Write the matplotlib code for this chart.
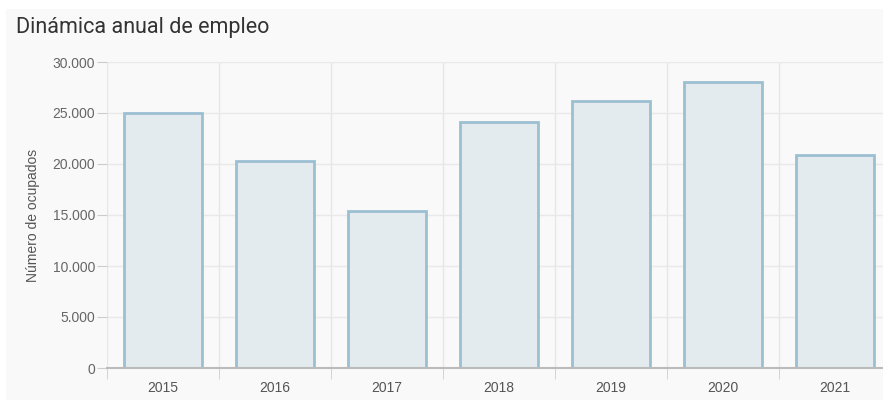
import matplotlib.pyplot as plt
import matplotlib.patches as mpatches
from matplotlib.ticker import FuncFormatter

plt.rcParams["font.family"] = ["Liberation Sans", "DejaVu Sans"]

years = ["2015", "2016", "2017", "2018", "2019", "2020", "2021"]
ocupados = [25000, 20260, 15390, 24120, 26140, 28040, 20910]
y_ticks = [0, 5000, 10000, 15000, 20000, 25000, 30000]

W, H = 883, 400
fig = plt.figure(figsize=(W / 100, H / 100), dpi=100)
fig.patch.set_facecolor("white")

# light grey panel behind the chart
fig.patches.append(mpatches.Rectangle((6 / W, 0), 1, 1 - 9 / H, transform=fig.transFigure,
                                      facecolor="#f9f9f9", edgecolor="none", zorder=-10))

# plot area: 0 at y=368, 30000 at y=62, categories 112 px wide starting at x=107
ax = fig.add_axes([106.7 / W, (H - 368) / H, 7 * 112 / W, 306 / H])
ax.set_facecolor("#f9f9f9")

x = list(range(len(years)))
ax.bar(x, ocupados, width=0.7, color="#e3ebef", edgecolor="#9cbfd2", linewidth=2, zorder=3)

ax.set_xlim(-0.5, len(years) - 0.5)
ax.set_ylim(0, 30000)
ax.set_yticks(y_ticks)
ax.yaxis.set_major_formatter(FuncFormatter(lambda v, p: f"{int(v):,}".replace(",", ".")))
ax.set_xticks(x)
ax.set_xticklabels(years)
ax.set_xticks([i - 0.5 for i in range(len(years) + 1)], minor=True)

ax.grid(axis="y", color="#e9e9e9", linewidth=1, zorder=0)
ax.grid(axis="x", which="minor", color="#e6e6e6", linewidth=1, zorder=0)
ax.grid(axis="x", which="major", visible=False)

for s in ["top", "right", "left"]:
    ax.spines[s].set_visible(False)
ax.spines["bottom"].set_color("#bbbbbb")
ax.spines["bottom"].set_linewidth(1.5)
ax.spines["bottom"].set_zorder(4)

ax.tick_params(axis="y", length=7, color="#cccccc", labelsize=10, labelcolor="#666666", pad=1.5)
ax.tick_params(axis="x", which="major", length=0, labelsize=10, labelcolor="#555555", pad=9)
ax.tick_params(axis="x", which="minor", length=8, color="#cccccc")

ax.set_ylabel("Número de ocupados", fontsize=10, color="#555555", labelpad=9)

fig.text(16 / W, 1 - 28 / H, "Dinámica anual de empleo", fontsize=15.5, color="#333333",
         ha="left", va="center", family=["Roboto", "DejaVu Sans"])

fig.savefig("out.png", dpi=100, facecolor=fig.get_facecolor())
